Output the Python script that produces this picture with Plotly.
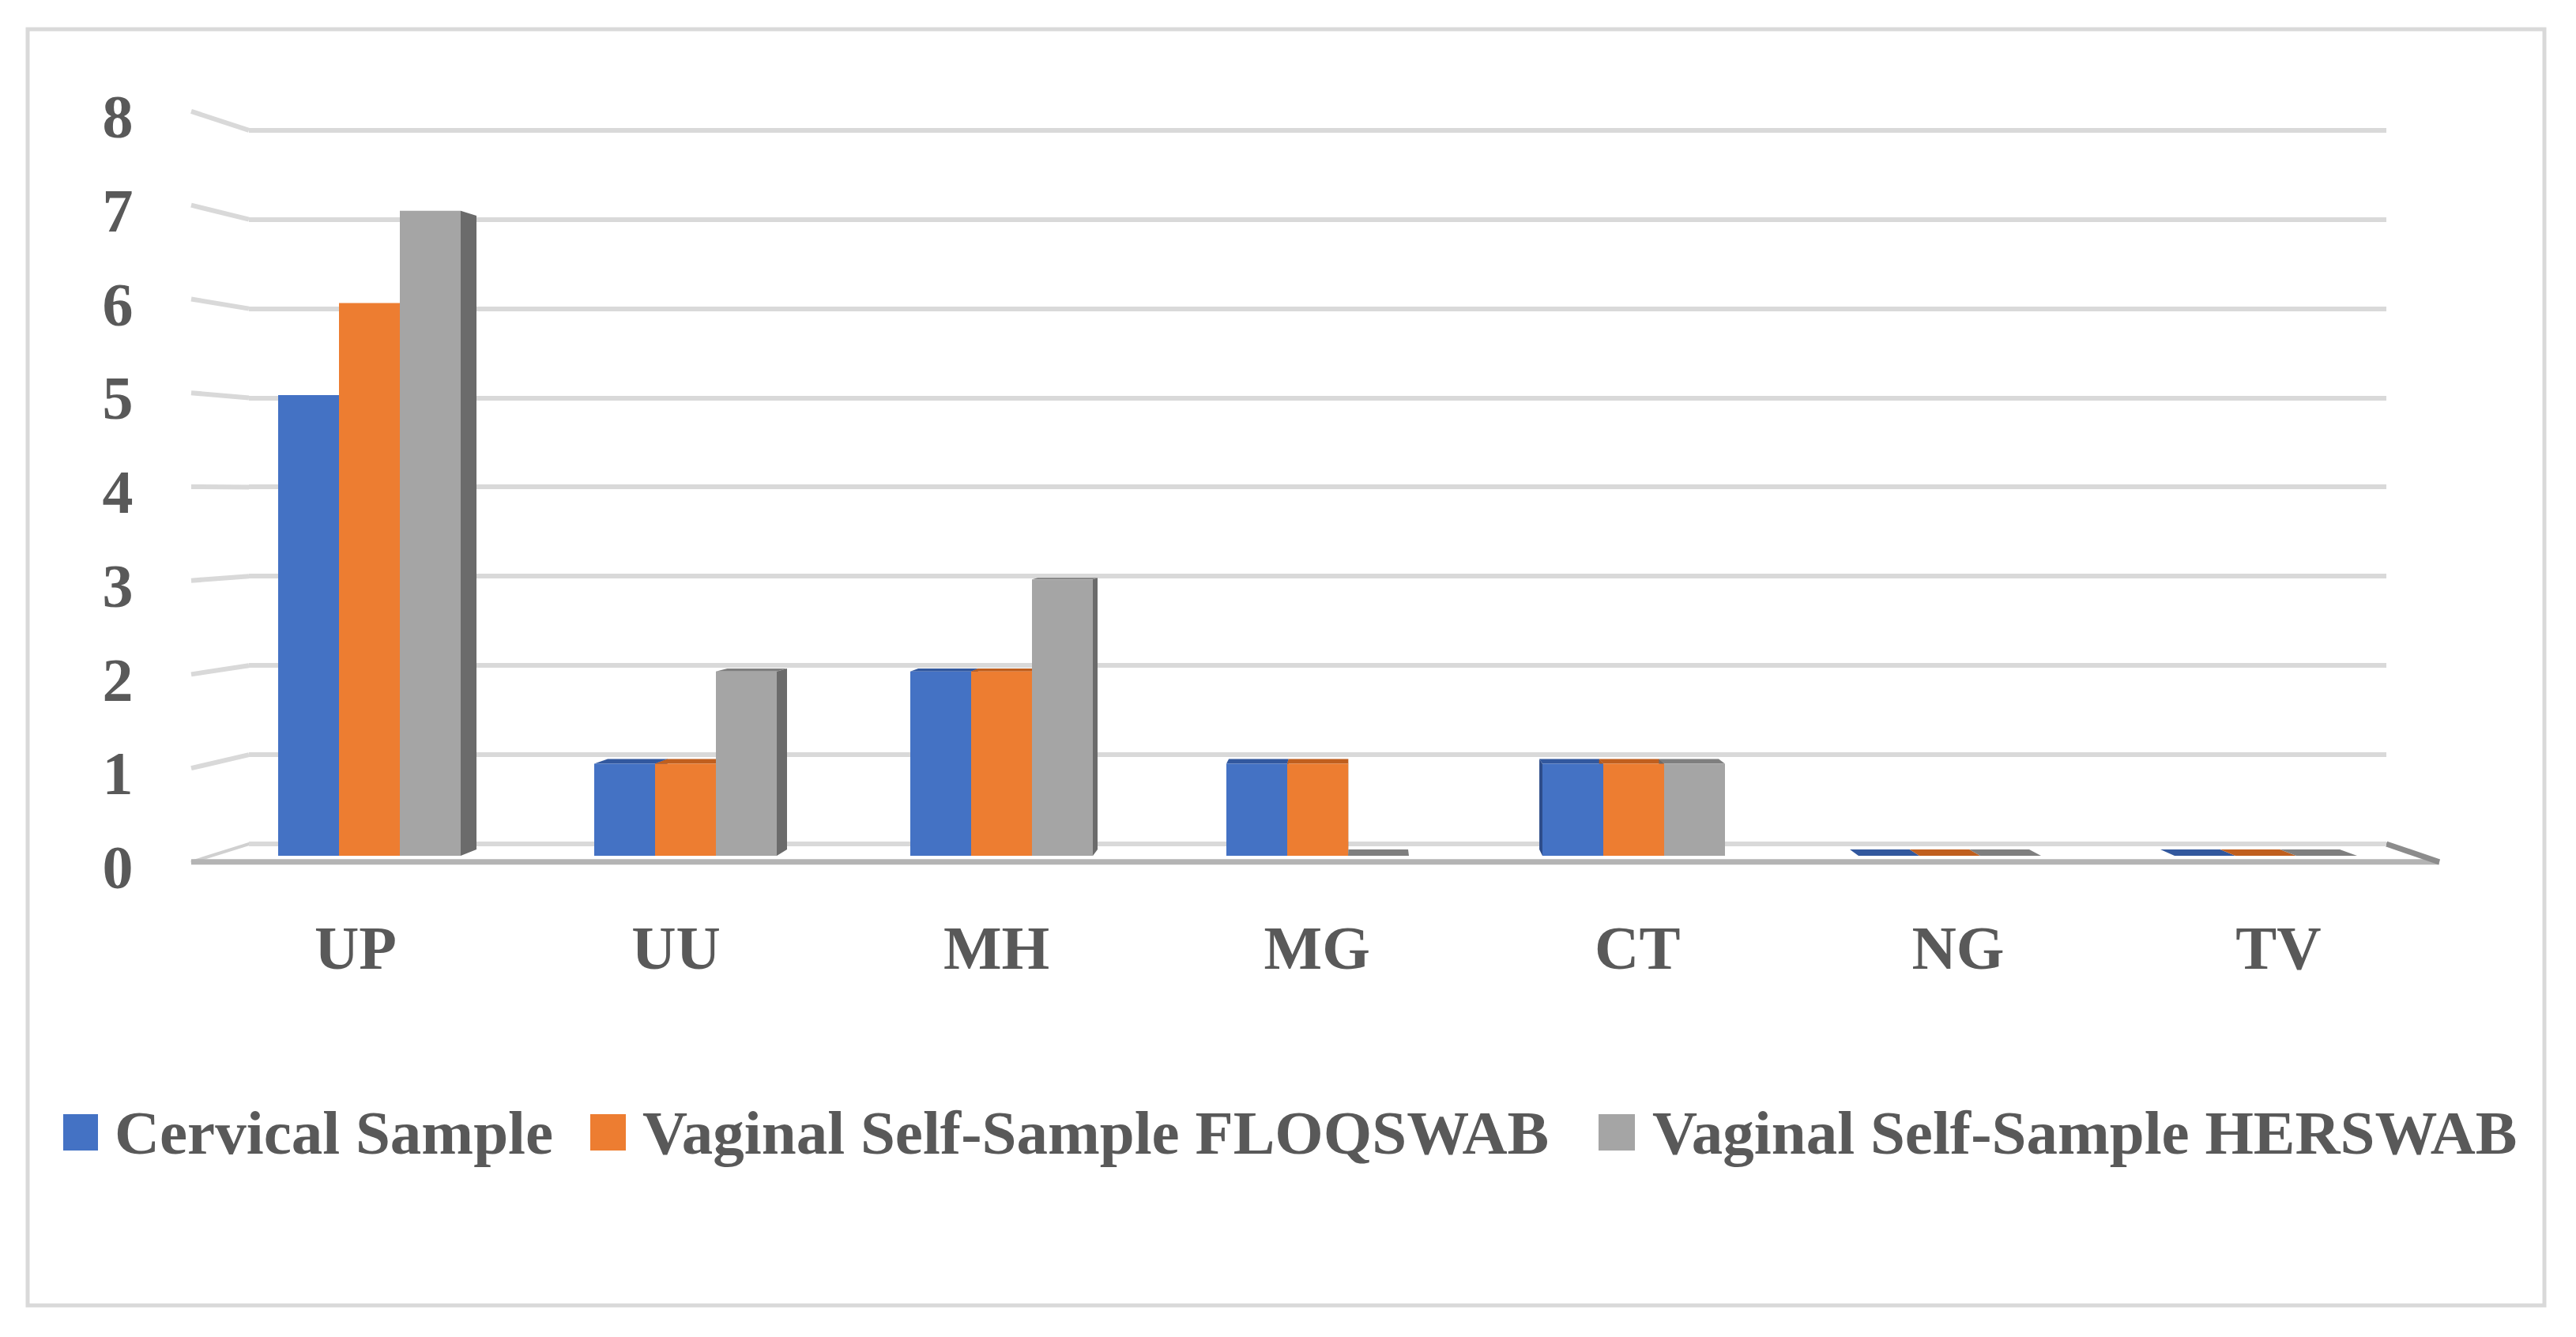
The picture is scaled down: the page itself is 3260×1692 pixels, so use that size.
import plotly.graph_objects as go

# ---------------- data ----------------
categories = ["UP", "UU", "MH", "MG", "CT", "NG", "TV"]
series_names = ["Cervical Sample", "Vaginal Self-Sample FLOQSWAB", "Vaginal Self-Sample HERSWAB"]
cervical = [5, 1, 2, 1, 1, 0, 0]
floqswab = [6, 1, 2, 1, 1, 0, 0]
herswab = [7, 2, 3, 0, 1, 0, 0]
y_ticks = [0, 1, 2, 3, 4, 5, 6, 7, 8]

series_values = [cervical, floqswab, herswab]
front_colors = ["#4472C4", "#ED7D31", "#A5A5A5"]
top_colors = ["#32589E", "#C05F1E", "#7F7F7F"]
side_colors = ["#2D4C8A", "#B65A1C", "#6B6B6B"]

# ---------------- layout geometry (page pixels) ----------------
OFF = 8                        # default body margin of the html page
W, H = 3260 - 2 * OFF, 1692 - 2 * OFF
PL, PR, PT, PB = 315, 3020, 100, 1130
PW, PH = PR - PL, PB - PT

VPX, VPY = 1726, 626          # vanishing point of the pseudo-3D view
S_BAR = 0.0175                # depth of the bars
S_WALL = 0.0492               # depth of the floor / side wall

X0_PX, X_UNIT = 467.5, 400.0  # bar plane: first category centre, px per category
BAR_Y0, BAR_UNIT = 1083.0, 116.6
WALL_Y0, WALL_UNIT = 1068.0, 112.9
FRONT_Y0 = (WALL_Y0 - S_WALL * VPY) / (1 - S_WALL)
FRONT_UNIT = WALL_UNIT / (1 - S_WALL)
LABEL_DY = 6                  # value labels sit slightly below the wall's front edge
LAB_F = 1.014
LAB_X0 = VPX + (X0_PX - VPX) * LAB_F
LAB_UNIT = X_UNIT * LAB_F

BARGAP = 0.4225
XC = (VPX - X0_PX) / X_UNIT
EYE = (BAR_Y0 - VPY) / BAR_UNIT

FONT = "Liberation Serif"
TXT = "#595959"
GRID = "#D9D9D9"


def xrange_for(x0px, unit):
    return [(PL - x0px) / unit, (PR - x0px) / unit]


def yrange_for(y0px, unit):
    return [(y0px - PB) / unit, (y0px - PT) / unit]


def pxx(p):
    return (p - PL) / PW


def pxy(p):
    return (PB - p) / PH


def front_x(xb):
    return (xb - S_WALL * VPX) / (1 - S_WALL)


idx = list(range(len(categories)))

fig = go.Figure()
for name, vals, col in zip(series_names, series_values, front_colors):
    fig.add_trace(go.Bar(
        x=idx, y=vals, name=name, marker=dict(color=col, line=dict(width=0)),
        hovertext=categories, hovertemplate="%{hovertext}: %{y}<extra>" + name + "</extra>",
        showlegend=False))

# invisible helpers so the auxiliary axes are drawn
fig.add_trace(go.Scatter(x=[0], y=[0], xaxis="x", yaxis="y2", mode="markers",
                         marker=dict(opacity=0), showlegend=False, hoverinfo="skip"))
fig.add_trace(go.Scatter(x=[0], y=[0], xaxis="x2", yaxis="y3", mode="markers",
                         marker=dict(opacity=0), showlegend=False, hoverinfo="skip"))

shapes = []
# outer border
shapes.append(dict(type="rect", xref="paper", yref="paper", x0=pxx(35), x1=pxx(3220),
                   y0=pxy(1652), y1=pxy(37), line=dict(color=GRID, width=5),
                   fillcolor="rgba(0,0,0,0)", layer="below"))

# left wall gridline segments (front edge -> back wall)
for v in y_ticks[1:]:
    shapes.append(dict(type="line", xref="paper", yref="paper",
                       x0=pxx(front_x(PL)), y0=pxy(FRONT_Y0 - v * FRONT_UNIT),
                       x1=0, y1=pxy(WALL_Y0 - v * WALL_UNIT),
                       line=dict(color=GRID, width=6), layer="between"))

# floor slab
fl, fr = front_x(PL), front_x(PR)
floor_path = "M {:.5f},{:.5f} L {:.5f},{:.5f} L {:.5f},{:.5f} L {:.5f},{:.5f} Z".format(
    pxx(PL), pxy(WALL_Y0), pxx(PR), pxy(WALL_Y0), pxx(fr), pxy(FRONT_Y0), pxx(fl), pxy(FRONT_Y0))
shapes.append(dict(type="path", xref="paper", yref="paper", path=floor_path,
                   fillcolor="white", line=dict(color="#D0D0D0", width=4), layer="between"))
shapes.append(dict(type="line", xref="paper", yref="paper", x0=pxx(fl), x1=pxx(fr),
                   y0=pxy(FRONT_Y0), y1=pxy(FRONT_Y0), line=dict(color="#B4B4B4", width=7),
                   layer="between"))
shapes.append(dict(type="line", xref="paper", yref="paper", x0=pxx(PR), x1=pxx(fr),
                   y0=pxy(WALL_Y0), y1=pxy(FRONT_Y0), line=dict(color="#8C8C8C", width=7),
                   layer="between"))

# pseudo-3D faces of bars, derived from the data values
bw = (1 - BARGAP) / len(series_values)
for j, vals in enumerate(series_values):
    for i, v in enumerate(vals):
        x0 = i + (j - len(series_values) / 2) * bw
        x1 = x0 + bw
        if v < EYE:
            bx0 = x0 + S_BAR * (XC - x0)
            bx1 = x1 + S_BAR * (XC - x1)
            by = v + S_BAR * (EYE - v)
            shapes.append(dict(type="path", xref="x", yref="y", layer="between",
                               path=f"M {x0},{v} L {x1},{v} L {bx1},{by} L {bx0},{by} Z",
                               fillcolor=top_colors[j], line=dict(width=0)))
        if v > 0:
            edge = None
            if x1 < XC:
                edge = x1
            elif x0 > XC:
                edge = x0
            if edge is not None:
                be = edge + S_BAR * (XC - edge)
                shapes.append(dict(type="path", xref="x", yref="y", layer="between",
                                   path=(f"M {edge},0 L {edge},{v} L {be},{v + S_BAR * (EYE - v)} "
                                         f"L {be},{S_BAR * EYE} Z"),
                                   fillcolor=side_colors[j], line=dict(width=0)))

# legend (drawn manually to get large swatches)
legend_marker_x = [(80, 124), (747, 792), (2023, 2069)]
legend_text_x = [143, 811, 2089]
annotations = []
for (mx0, mx1), tx, name, col in zip(legend_marker_x, legend_text_x, series_names, front_colors):
    shapes.append(dict(type="rect", xref="paper", yref="paper", x0=pxx(mx0), x1=pxx(mx1),
                       y0=pxy(1456), y1=pxy(1410), fillcolor=col, line=dict(width=0)))
    annotations.append(dict(xref="paper", yref="paper", x=pxx(tx), y=pxy(1433),
                            xanchor="left", yanchor="middle", showarrow=False, text=name,
                            font=dict(family=FONT, size=79, color=TXT, weight="bold")))

fig.update_layout(
    width=W, height=H,
    margin=dict(l=PL - OFF, r=W - (PR - OFF), t=PT - OFF, b=H - (PB - OFF), autoexpand=False),
    paper_bgcolor="white", plot_bgcolor="rgba(0,0,0,0)",
    barmode="group", bargap=BARGAP, bargroupgap=0,
    showlegend=False,
    shapes=shapes, annotations=annotations,
    xaxis=dict(range=xrange_for(X0_PX, X_UNIT), showgrid=False, zeroline=False,
               showticklabels=False, showline=False, fixedrange=True),
    xaxis2=dict(overlaying="x", anchor="y3", side="bottom",
                range=xrange_for(LAB_X0, LAB_UNIT), tickmode="array", tickvals=idx,
                ticktext=categories, ticks="outside", ticklen=1, tickcolor="rgba(0,0,0,0)",
                showgrid=False, zeroline=False, showline=False, fixedrange=True,
                tickfont=dict(family=FONT, size=78, color=TXT, weight="bold")),
    yaxis=dict(range=yrange_for(BAR_Y0, BAR_UNIT), showgrid=False, zeroline=False,
               showticklabels=False, showline=False, fixedrange=True),
    yaxis2=dict(overlaying="y", anchor="x", range=yrange_for(WALL_Y0, WALL_UNIT),
                tickmode="array", tickvals=y_ticks, showticklabels=False,
                showgrid=True, gridcolor=GRID, gridwidth=6, zeroline=False,
                showline=False, fixedrange=True),
    yaxis3=dict(overlaying="y", anchor="x2", side="left",
                range=yrange_for(FRONT_Y0 + LABEL_DY, FRONT_UNIT), tickmode="array",
                tickvals=y_ticks, ticktext=[str(t) for t in y_ticks], ticks="outside",
                ticklen=130, tickcolor="rgba(0,0,0,0)", showgrid=False, zeroline=False,
                showline=False, fixedrange=True,
                tickfont=dict(family=FONT, size=78, color=TXT, weight="bold")),
)

fig.write_html("out.html")
